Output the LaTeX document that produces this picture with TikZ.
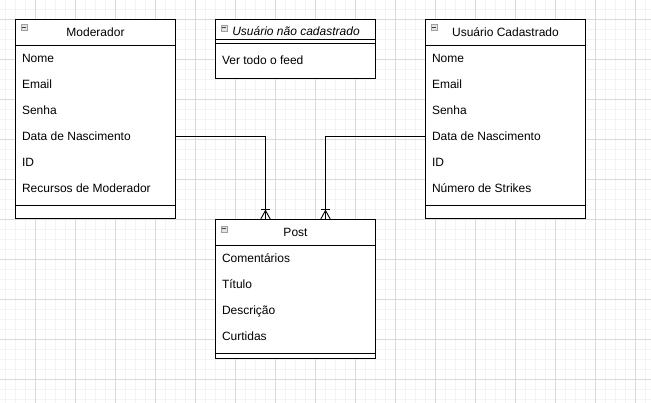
\documentclass[tikz,border=0pt]{standalone}
\usepackage{fontspec}
\setmainfont{Liberation Sans}
\definecolor{gmajor}{HTML}{DADADA}
\definecolor{gminor}{HTML}{F3F3F3}
\begin{document}
\begin{tikzpicture}[x=1pt,y=-1pt,line width=1pt,
  box/.style={draw=black,fill=white,anchor=north west,inner sep=0pt,outer sep=0pt},
  attr/.style={anchor=west,inner sep=0pt,text height=9pt,text depth=0pt,font=\fontsize{12}{14}\selectfont},
  ttl/.style={anchor=center,inner sep=0pt,text height=9pt,text depth=0pt,font=\fontsize{12}{14}\selectfont},
  icon/.style={draw=gray!75,fill=gray!22,minimum size=6pt,inner sep=0pt,outer sep=0pt,line width=0.7pt,anchor=north west},
  iconbar/.style={draw=black!75,line width=1pt},
  sep/.style={draw=black,line width=1pt},
  conn/.style={draw=black,line width=1pt},
  foot/.style={draw=black,line width=0.9pt},
  minorline/.style={draw=gminor,line width=1pt},
  majorline/.style={draw=gmajor,line width=1pt}]
\fill[white] (0,0) rectangle (651,403);
\useasboundingbox (0,0) rectangle (651,403);
% grid
\foreach \x in {5.5,15.5,...,645.5} \draw[minorline] (\x,0) -- (\x,403);
\foreach \y in {9.5,19.5,...,399.5} \draw[minorline] (0,\y) -- (651,\y);
\foreach \x in {35.5,75.5,...,635.5} \draw[majorline] (\x,0) -- (\x,403);
\foreach \y in {19.5,59.5,...,379.5} \draw[majorline] (0,\y) -- (651,\y);

% Moderador
\node[box,minimum width=160pt,minimum height=199pt] (mod) at (15.5,19.5) {};
\draw[sep] ([yshift=-26pt]mod.north west) -- ([yshift=-26pt]mod.north east);
\draw[sep] ([yshift=13pt]mod.south west) -- ([yshift=13pt]mod.south east);
\node[icon] (modicon) at ([xshift=5.5pt,yshift=-5pt]mod.north west) {};
\draw[iconbar] ([xshift=1.3pt]modicon.west) -- ([xshift=-1.3pt]modicon.east);
\node[ttl] (modttl) at (95.5,32.5) {Moderador};
\node[attr] (modNome) at (21.5,58.5) {Nome};
\node[attr] (modEmail) at (21.5,84.5) {Email};
\node[attr] (modSenha) at (21.5,110.5) {Senha};
\node[attr] (modData) at (21.5,136.5) {Data de Nascimento};
\node[attr] (modID) at (21.5,162.5) {ID};
\node[attr] (modRec) at (21.5,188.5) {Recursos de Moderador};

% Usuario nao cadastrado
\node[box,minimum width=160pt,minimum height=59pt] (unc) at (215.5,19.5) {};
\draw[sep] ([yshift=-20pt]unc.north west) -- ([yshift=-20pt]unc.north east);
\draw[sep] ([yshift=-24pt]unc.north west) -- ([yshift=-24pt]unc.north east);
\node[icon] (uncicon) at ([xshift=5.5pt,yshift=-5.5pt]unc.north west) {};
\draw[iconbar] ([xshift=1.3pt]uncicon.west) -- ([xshift=-1.3pt]uncicon.east);
\node[ttl,font=\fontsize{12}{14}\selectfont\itshape] (uncttl) at (296,31.5) {Usuário não cadastrado};
\node[attr] (uncFeed) at (221.5,60) {Ver todo o feed};

% Usuario Cadastrado
\node[box,minimum width=160pt,minimum height=199pt] (uc) at (425.5,19.5) {};
\draw[sep] ([yshift=-26pt]uc.north west) -- ([yshift=-26pt]uc.north east);
\draw[sep] ([yshift=13pt]uc.south west) -- ([yshift=13pt]uc.south east);
\node[icon] (ucicon) at ([xshift=5.5pt,yshift=-5pt]uc.north west) {};
\draw[iconbar] ([xshift=1.3pt]ucicon.west) -- ([xshift=-1.3pt]ucicon.east);
\node[ttl] (ucttl) at (505.5,32.5) {Usuário Cadastrado};
\node[attr] (ucNome) at (431.5,58.5) {Nome};
\node[attr] (ucEmail) at (431.5,84.5) {Email};
\node[attr] (ucSenha) at (431.5,110.5) {Senha};
\node[attr] (ucData) at (431.5,136.5) {Data de Nascimento};
\node[attr] (ucID) at (431.5,162.5) {ID};
\node[attr] (ucStr) at (431.5,188.5) {Número de Strikes};

% Post
\node[box,minimum width=160pt,minimum height=139pt] (post) at (215.5,219.5) {};
\draw[sep] ([yshift=-26pt]post.north west) -- ([yshift=-26pt]post.north east);
\draw[sep] ([yshift=5pt]post.south west) -- ([yshift=5pt]post.south east);
\node[icon] (posticon) at ([xshift=5.5pt,yshift=-6.5pt]post.north west) {};
\draw[iconbar] ([xshift=1.3pt]posticon.west) -- ([xshift=-1.3pt]posticon.east);
\node[ttl] (postttl) at (295.5,232.5) {Post};
\node[attr] (pCom) at (221.5,258.5) {Comentários};
\node[attr] (pTit) at (221.5,284.5) {Título};
\node[attr] (pDes) at (221.5,310.5) {Descrição};
\node[attr] (pCur) at (221.5,336.5) {Curtidas};

% connectors
\coordinate (pl) at ([xshift=-30pt]post.north);
\coordinate (pr) at ([xshift=30pt]post.north);
\draw[conn] (mod.east |- modData.west) -| (pl);
\draw[conn] (uc.west |- ucData.west) -| (pr);
% crow's feet (one-to-many)
\foreach \c in {pl,pr}{
  \draw[foot] ([xshift=-4.5pt,yshift=10.5pt]\c) -- ([xshift=4.5pt,yshift=10.5pt]\c);
  \draw[foot] ([yshift=9pt]\c) -- ([xshift=-5pt]\c);
  \draw[foot] ([yshift=9pt]\c) -- ([xshift=5pt]\c);
}
\end{tikzpicture}
\end{document}
